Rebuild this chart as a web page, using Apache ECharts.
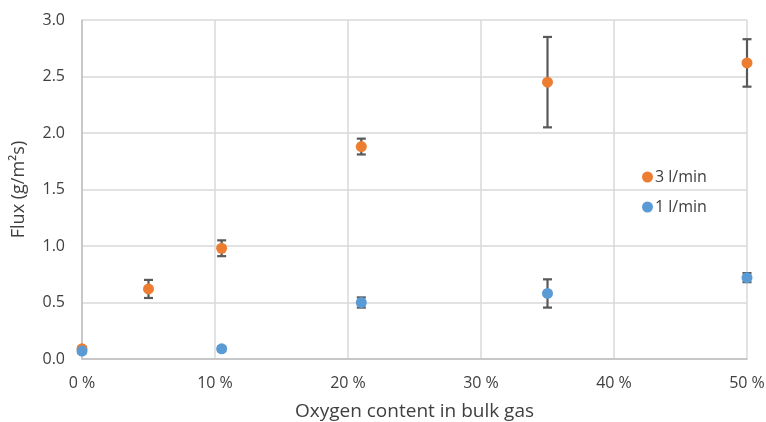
<!DOCTYPE html>
<html>
<head>
<meta charset="utf-8">
<script src="https://cdn.jsdelivr.net/npm/echarts@6/dist/echarts.min.js"></script>
<style>
  html, body { margin: 0; padding: 0; background: #fff; }
  #chart { width: 766px; height: 422px; }
</style>
</head>
<body>
<div id="chart"></div>
<script>
// Oxygen content (%) and flux (g/m²s) with standard deviation per flow rate
const seriesNames = ['3 l/min', '1 l/min'];
const oxygen3 = [0, 5, 10.5, 21, 35, 50];
const flux3 = [0.09, 0.62, 0.98, 1.88, 2.45, 2.62];
const err3 = [0.02, 0.08, 0.07, 0.07, 0.40, 0.21];
const oxygen1 = [0, 10.5, 21, 35, 50];
const flux1 = [0.07, 0.09, 0.50, 0.58, 0.72];
const err1 = [0.02, 0.02, 0.045, 0.125, 0.04];
const xTicks = [0, 10, 20, 30, 40, 50];
const yTicks = [0, 0.5, 1, 1.5, 2, 2.5, 3];

const FONT = '"Open Sans", "Noto Sans", sans-serif';
const TEXT = '#404040';

function pairs(xs, ys) { return xs.map((x, i) => [x, ys[i]]); }
function errRows(xs, ys, es) { return xs.map((x, i) => [x, ys[i] - es[i], ys[i] + es[i]]); }

function errorBar(params, api) {
  const x = api.value(0);
  const lo = api.coord([x, api.value(1)]);
  const hi = api.coord([x, api.value(2)]);
  const half = 4.5;
  const style = { stroke: '#595959', lineWidth: 2.2, fill: null };
  return {
    type: 'group',
    children: [
      { type: 'line', shape: { x1: lo[0], y1: lo[1], x2: hi[0], y2: hi[1] }, style },
      { type: 'line', shape: { x1: lo[0] - half, y1: lo[1], x2: lo[0] + half, y2: lo[1] }, style },
      { type: 'line', shape: { x1: hi[0] - half, y1: hi[1], x2: hi[0] + half, y2: hi[1] }, style }
    ]
  };
}

const chart = echarts.init(document.getElementById('chart'), null, { renderer: 'canvas' });
chart.setOption({
  animation: false,
  textStyle: { fontFamily: FONT },
  grid: { left: 82, right: 19, top: 20, bottom: 63, outerBoundsMode: 'none', containLabel: false },
  legend: {
    orient: 'vertical',
    left: 637,
    top: 164,
    itemGap: 14,
    itemWidth: 11,
    itemHeight: 11,
    data: seriesNames.map(n => ({ name: n, icon: 'circle' })),
    textStyle: { fontFamily: FONT, fontSize: 16, color: TEXT, padding: [0, 0, 0, -3] }
  },
  xAxis: {
    type: 'value',
    min: xTicks[0],
    max: xTicks[xTicks.length - 1],
    interval: 10,
    name: 'Oxygen content in bulk gas',
    nameLocation: 'middle',
    nameGap: 43,
    nameTextStyle: { fontFamily: FONT, fontSize: 19, color: TEXT },
    axisLine: { show: true, lineStyle: { color: '#bfbfbf', width: 1.5 } },
    axisTick: { show: false },
    axisLabel: { margin: 16, fontFamily: FONT, fontSize: 16, color: TEXT, formatter: v => v + ' %' },
    splitLine: { show: true, lineStyle: { color: '#d9d9d9', width: 1.5 } }
  },
  yAxis: {
    type: 'value',
    min: yTicks[0],
    max: yTicks[yTicks.length - 1],
    interval: 0.5,
    name: 'Flux (g/m²s)',
    nameLocation: 'middle',
    nameGap: 54,
    nameTextStyle: { fontFamily: FONT, fontSize: 18, color: TEXT },
    axisLine: { show: true, lineStyle: { color: '#bfbfbf', width: 1.5 } },
    axisTick: { show: false },
    axisLabel: { margin: 17, fontFamily: FONT, fontSize: 16, color: TEXT, formatter: v => v.toFixed(1) },
    splitLine: { show: true, lineStyle: { color: '#d9d9d9', width: 1.5 } }
  },
  series: [
    {
      type: 'custom', name: 'err3', renderItem: errorBar, z: 1,
      data: errRows(oxygen3, flux3, err3), encode: { x: 0, y: [1, 2] }, silent: true
    },
    {
      type: 'custom', name: 'err1', renderItem: errorBar, z: 1,
      data: errRows(oxygen1, flux1, err1), encode: { x: 0, y: [1, 2] }, silent: true
    },
    {
      type: 'scatter', name: seriesNames[0], z: 3, symbolSize: 11,
      itemStyle: { color: '#ED7D31', opacity: 1 },
      data: pairs(oxygen3, flux3)
    },
    {
      type: 'scatter', name: seriesNames[1], z: 4, symbolSize: 11,
      itemStyle: { color: '#5B9BD5', opacity: 1 },
      data: pairs(oxygen1, flux1)
    }
  ]
});
</script>
</body>
</html>
